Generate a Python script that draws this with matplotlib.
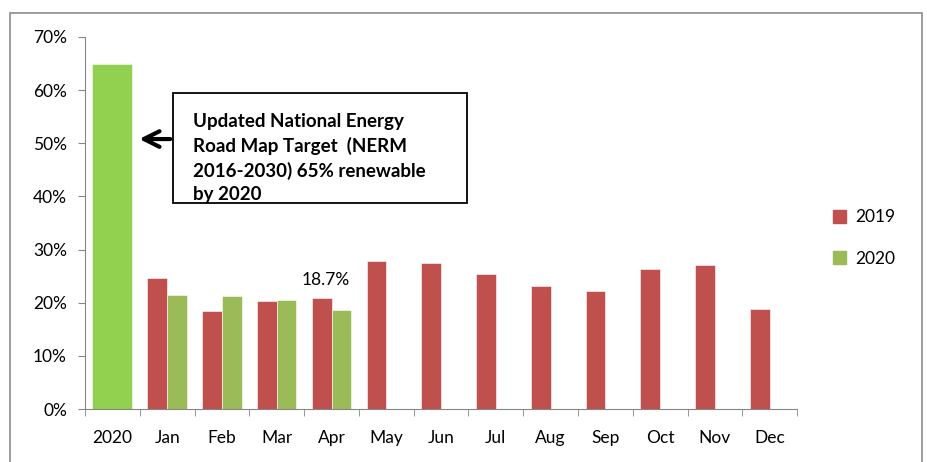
import numpy as np
import matplotlib
matplotlib.use('Agg')
from matplotlib import pyplot as plt
from matplotlib.patches import Rectangle, Patch

plt.rcParams['font.family'] = ['Lato', 'DejaVu Sans']

# data
categories = ['2020', 'Jan', 'Feb', 'Mar', 'Apr', 'May', 'Jun', 'Jul', 'Aug', 'Sep', 'Oct', 'Nov', 'Dec']
target_2020 = 65.0
months = categories[1:]
vals_2019 = [24.7, 18.4, 20.4, 20.8, 27.8, 27.5, 25.4, 23.2, 22.2, 26.3, 27.1, 18.9]
vals_2020 = [21.4, 21.3, 20.5, 18.7]
note_text = 'Updated National Energy\nRoad Map Target  (NERM\n2016-2030) 65% renewable\nby 2020'
apr_label = '18.7%'

RED = '#C0504D'
GREEN = '#9BBB59'
BRIGHT = '#92D050'
AXCOL = '#868686'

fig = plt.figure(figsize=(9.28, 4.62), dpi=100)
ax = fig.add_axes([0.0916, 0.1147, 0.7674, 0.8053])

w = 0.36
x = np.arange(len(categories))
ax.bar(x[0], target_2020, width=0.73, color=BRIGHT, edgecolor='white', linewidth=0.4)
xm = x[1:]
ax.bar(xm - w / 2, vals_2019, width=w, color=RED, edgecolor='white', linewidth=0.4, label='2019')
ax.bar(xm[:len(vals_2020)] + w / 2, vals_2020, width=w, color=GREEN, edgecolor='white', linewidth=0.4, label='2020')

ax.text(xm[3] - 0.1, vals_2020[3] + 5.5, apr_label, ha='center', va='center', fontsize=12.5)

ax.set_xlim(-0.5, len(categories) - 0.5)
ax.set_ylim(0, 70)
ax.set_yticks(np.arange(0, 71, 10))
ax.set_yticklabels(['{}%'.format(v) for v in range(0, 71, 10)], fontsize=12.5)
ax.set_xticks(x)
ax.set_xticklabels(categories, fontsize=12.5)
ax.set_xticks(np.arange(-0.5, len(categories), 1), minor=True)
ax.tick_params(axis='x', which='major', length=0, pad=15)
ax.tick_params(axis='x', which='minor', length=5, color=AXCOL)
ax.tick_params(axis='y', length=5, color=AXCOL, pad=8)
for s in ['top', 'right']:
    ax.spines[s].set_visible(False)
for s in ['left', 'bottom']:
    ax.spines[s].set_color(AXCOL)

# annotation box
fig.patches.append(Rectangle((0.1864, 0.5606), 0.3168, 0.238, transform=fig.transFigure,
                             fill=False, edgecolor='black', linewidth=1.3))
fig.text(0.208, 0.658, note_text, ha='left', va='center', fontsize=13.5,
         fontweight='bold', linespacing=1.44)
ax.annotate('', xy=(0.44, 50.8), xycoords='data', xytext=(0.1864, 0.699),
            textcoords='figure fraction',
            arrowprops=dict(arrowstyle='->', lw=3, color='black', mutation_scale=28))

# legend
handles = [Patch(color=RED, label='2019'), Patch(color=GREEN, label='2020')]
fig.legend(handles=handles, loc='center left', bbox_to_anchor=(0.881, 0.485),
           frameon=False, fontsize=12.5, handlelength=0.75, handleheight=0.75,
           labelspacing=1.45, handletextpad=0.5)

# outer border
fig.patches.append(Rectangle((10 / 928, -0.1), 912 / 928, 1.1 - 13 / 462,
                             transform=fig.transFigure, fill=False,
                             edgecolor='#8C8C8C', linewidth=1.2))

plt.savefig('out.png', dpi=100)
